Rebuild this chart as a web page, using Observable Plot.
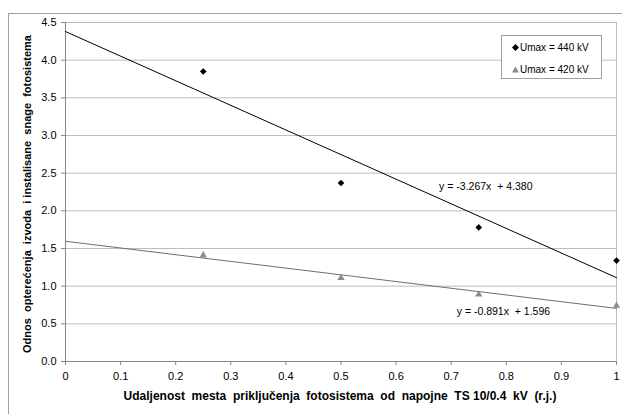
<!DOCTYPE html>
<html>
<head>
<meta charset="utf-8">
<script src="https://cdn.jsdelivr.net/npm/d3@7"></script>
<script src="https://cdn.jsdelivr.net/npm/@observablehq/plot@0.6"></script>
<style>
  html, body { margin: 0; padding: 0; background: #fff; }
  #wrap { position: relative; width: 622px; height: 414px; overflow: hidden; font-family: "Liberation Sans", Arial, sans-serif; }
  #frame { position: absolute; left: 8px; top: 13px; width: 640px; height: 440px; border-left: 1px solid #a0a0a0; border-top: 1px solid #a0a0a0; box-sizing: border-box; pointer-events: none; }
  #legend { position: absolute; left: 501px; top: 35px; width: 101px; height: 44px; border: 1px solid #a0a0a0; background: #fff; box-sizing: border-box; font-size: 10px; color: #000; }
  #legend .row { position: absolute; left: 10px; height: 12px; line-height: 12px; white-space: nowrap; }
  #legend svg { vertical-align: middle; margin-right: 1px; position: relative; top: -1px; }
</style>
</head>
<body>
<div id="wrap">
  <div id="chart"></div>
  <div id="frame"></div>
  <div id="legend"></div>
</div>
<script>
// Data
const distances = [0.25, 0.5, 0.75, 1.0];
const ratio440 = [3.85, 2.37, 1.78, 1.34];
const ratio420 = [1.41, 1.11, 0.89, 0.74];
const seriesNames = ["Umax = 440 kV", "Umax = 420 kV"];
// trendline coefficients as printed on the chart
const trendSlopes = [-3.267, -0.891];
const trendIntercepts = [4.380, 1.596];
const trendRange = [0, 1];
const equationLabels = ["y = -3.267x  + 4.380", "y = -0.891x  + 1.596"];
const equationPos = [[0.678, 2.32], [0.71, 0.667]];
const xTicks = [0, 0.1, 0.2, 0.3, 0.4, 0.5, 0.6, 0.7, 0.8, 0.9, 1];
const yTicks = [0, 0.5, 1, 1.5, 2, 2.5, 3, 3.5, 4, 4.5];
const xTitle = "Udaljenost  mesta  priključenja  fotosistema  od  napojne  TS 10/0.4  kV  (r.j.)";
const yTitle = "Odnos  opterećenja  izvoda  i instalisane  snage  fotosistema";

const pts440 = distances.map((x, i) => ({x, y: ratio440[i]}));
const pts420 = distances.map((x, i) => ({x, y: ratio420[i]}));
const trend440 = trendRange.map(x => ({x, y: trendIntercepts[0] + trendSlopes[0] * x}));
const trend420 = trendRange.map(x => ({x, y: trendIntercepts[1] + trendSlopes[1] * x}));
const eqData = equationLabels.map((t, i) => ({x: equationPos[i][0], y: equationPos[i][1], t}));

const gridColor = "#bdbdbd";
const axisColor = "#868686";
const font = "Liberation Sans, Arial, sans-serif";

const chart = Plot.plot({
  width: 622,
  height: 414,
  marginLeft: 65,
  marginRight: 6,
  marginTop: 22,
  marginBottom: 53,
  style: {fontFamily: font, fontSize: "11px", color: "#000", background: "transparent"},
  x: {domain: [0, 1], ticks: xTicks},
  y: {domain: [0, 4.5], ticks: yTicks},
  marks: [
    Plot.gridY(yTicks.filter(d => d > 0), {stroke: gridColor, strokeOpacity: 1}),
    Plot.ruleX([1], {stroke: gridColor, strokeOpacity: 1}),
    Plot.axisY(yTicks, {
      tickSize: 4, tickPadding: 5, stroke: axisColor,
      tickFormat: d => d.toFixed(1), label: null, fontSize: 11
    }),
    Plot.axisX(xTicks, {
      tickSize: 4, tickPadding: 7, stroke: axisColor,
      tickFormat: d => (d === 0 || d === 1) ? String(d) : d.toFixed(1), label: null, fontSize: 11
    }),
    Plot.ruleX([0], {stroke: axisColor}),
    Plot.ruleY([0], {stroke: axisColor}),
    Plot.line(trend440, {x: "x", y: "y", stroke: "#000", strokeWidth: 1}),
    Plot.line(trend420, {x: "x", y: "y", stroke: "#6e6e6e", strokeWidth: 1}),
    Plot.dot(pts440, {x: "x", y: "y", symbol: "diamond2", r: 3, fill: "#000", stroke: null}),
    Plot.dot(pts420, {x: "x", y: "y", symbol: "triangle", r: 2.7, fill: "#8c8c8c", stroke: null}),
    Plot.text(eqData, {x: "x", y: "y", text: "t", textAnchor: "start", fontSize: 10.5, fill: "#000"})
  ]
});
document.getElementById("chart").appendChild(chart);

// axis titles inside the SVG
const svg = d3.select(chart);
svg.append("text")
  .attr("x", 340).attr("y", 400)
  .attr("text-anchor", "middle")
  .attr("font-family", font).attr("font-size", 12).attr("font-weight", "bold")
  .style("white-space", "pre")
  .text(xTitle);
svg.append("text")
  .attr("transform", "translate(31,194) rotate(-90)")
  .attr("text-anchor", "middle")
  .attr("font-family", font).attr("font-size", 11).attr("font-weight", "bold")
  .style("white-space", "pre")
  .text(yTitle);

// legend
const legend = document.getElementById("legend");
const symbols = [
  '<svg width="7" height="7"><path d="M3.5,0L7,3.5L3.5,7L0,3.5Z" fill="#000"/></svg>',
  '<svg width="7" height="7"><path d="M3.5,0.5L7,6.5L0,6.5Z" fill="#8c8c8c"/></svg>'
];
seriesNames.forEach((name, i) => {
  const row = document.createElement("div");
  row.className = "row";
  row.style.top = (i === 0 ? 6 : 28) + "px";
  row.innerHTML = symbols[i] + name;
  legend.appendChild(row);
});
</script>
</body>
</html>
